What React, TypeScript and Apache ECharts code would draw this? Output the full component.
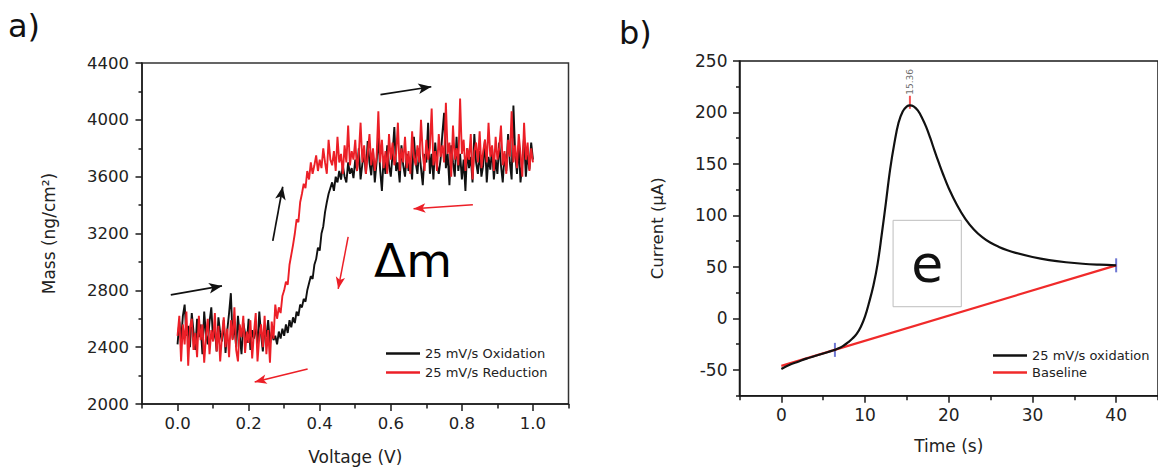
import React, { useEffect, useRef } from "react";
import * as echarts from "echarts";

const FONT = "DejaVu Sans";

// ---------- Panel a) : EQCM mass vs voltage ----------
const VOLT_STEP = 0.005;
const MASS_OXIDATION = [
  2420, 2580, 2450, 2620, 2700, 2480, 2550, 2400, 2640, 2510,
  2380, 2600, 2470, 2560, 2350, 2650, 2490, 2420, 2580, 2680,
  2450, 2530, 2370, 2610, 2500, 2440, 2590, 2360, 2520, 2640,
  2780, 2460, 2550, 2400, 2620, 2480, 2350, 2570, 2500, 2430,
  2600, 2380, 2520, 2460, 2560, 2400, 2650, 2490, 2370, 2540,
  2470, 2590, 2420, 2510, 2450, 2480, 2420, 2510, 2460, 2530,
  2480, 2560, 2500, 2590, 2540, 2610, 2570, 2650, 2620, 2700,
  2680, 2740, 2720, 2800, 2850, 2900, 2880, 2980, 3020, 3100,
  3080, 3200, 3250, 3350, 3420, 3480, 3520, 3560, 3500, 3600,
  3560, 3640, 3580, 3680, 3600, 3560, 3700, 3620, 3660, 3590,
  3720, 3640, 3800, 3580, 3690, 3760, 3620, 3850, 3700, 3610,
  3780, 3560, 3700, 3880, 3650, 3500, 3740, 3620, 3820, 3680,
  3600, 3760, 3950, 3640, 3700, 3560, 3820, 3680, 3600, 3760,
  3640, 3720, 3580, 3880, 3700, 3620, 3800, 3660, 3540, 3760,
  3700, 3980, 3620, 3760, 3580, 3840, 3680, 3620, 3720, 3900,
  4050, 3660, 3760, 3540, 3820, 3700, 3600, 3880, 3640, 3760,
  3580, 3720, 3500, 3800, 3660, 3740, 3560, 3900, 3700, 3620,
  3780, 3600, 3680, 3860, 3560, 3740, 3650, 3800, 3580, 3720,
  3620, 3840, 3680, 3560, 3760, 3640, 3900, 3700, 3580, 4100,
  3760, 3620, 3820, 3560, 3700, 3880, 3600, 3760, 3650, 3840, 3720,
];
const MASS_REDUCTION = [
  2480, 2620, 2300, 2560, 2420, 2650, 2270, 2540, 2600, 2380,
  2500, 2330, 2620, 2450, 2560, 2290, 2480, 2600, 2350, 2520,
  2440, 2640, 2370, 2550, 2300, 2480, 2610, 2400, 2530, 2330,
  2590, 2450, 2680, 2380, 2300, 2560, 2470, 2620, 2360, 2510,
  2430, 2590, 2320, 2500, 2640, 2300, 2470, 2560, 2400, 2620,
  2350, 2520, 2290, 2580, 2460, 2700, 2600, 2680, 2640, 2760,
  2800, 2860, 2840, 2980, 3050, 3120, 3200, 3300, 3280, 3420,
  3480, 3550, 3520, 3640, 3580, 3700, 3620, 3680, 3750, 3640,
  3720, 3660, 3800, 3700, 3620, 3860, 3720, 3680, 3780, 3640,
  3880, 3700, 3760, 3620, 3820, 3700, 3960, 3680, 3780, 3720,
  3860, 3640, 3760, 3980, 3700, 3820, 3620, 3760, 3900, 3680,
  3800, 3640, 3740, 4060, 3700, 3860, 3660, 3780, 3620, 3900,
  3720, 3840, 3680, 3760, 3980, 3640, 3800, 3700, 3880, 3660,
  3780, 3620, 3920, 3740, 3680, 3820, 3700, 4000, 3760, 3640,
  3860, 3720, 3800, 4080, 3680, 3780, 3640, 3900, 3740, 3820,
  3700, 4120, 3760, 3840, 3600, 3960, 3720, 3800, 3680, 4150,
  3760, 3860, 3640, 3800, 3720, 3900, 3580, 3780, 3840, 3700,
  3920, 3660, 3780, 3860, 3700, 3980, 3740, 3820, 3640, 3880,
  3720, 3800, 3960, 3680, 3780, 3620, 3860, 3740, 4060, 3700,
  3820, 3660, 3900, 3760, 3600, 3980, 3720, 3840, 3640, 3800, 3700,
];
const VOLT_LABELS = [0, 0.2, 0.4, 0.6, 0.8, 1.0];
const VOLT_MINOR = [-0.1, 0.1, 0.3, 0.5, 0.7, 0.9, 1.1];
// direction arrows (data coordinates: start, end)
const ARROWS_BLACK = [
  [[-0.019, 2768], [0.125, 2831]],
  [[0.571, 4177], [0.714, 4233]],
  [[0.268, 3148], [0.296, 3529]],
];
const ARROWS_RED = [
  [[0.831, 3402], [0.664, 3374]],
  [[0.48, 3176], [0.452, 2810]],
  [[0.366, 2247], [0.217, 2155]],
];

// ---------- Panel b) : current vs time ----------
const TIME = [
  0, 1, 2, 3, 4, 5, 6, 6.4, 7, 7.5, 8, 8.5, 9, 9.5, 10, 10.5, 11, 11.5, 12, 12.5,
  13, 13.5, 14, 14.5, 15, 15.36, 15.8, 16.3, 16.8, 17.3, 17.8, 18.3, 18.8, 19.3,
  20, 21, 22, 23, 24, 25, 26, 27, 28, 30, 32, 34, 36, 38, 40,
];
const CURRENT = [
  -49, -45, -42, -39, -36.5, -34, -31.5, -30.5, -28.5, -26, -23, -19.5, -15, -8, 2, 16, 32, 53, 82, 113,
  145, 170, 190, 201, 206, 207, 206, 202, 195, 186, 175, 163, 151.5, 140.5,
  126.5, 110, 96.5, 86.5, 79, 73.5, 69.5, 66.3, 63.7, 59.7, 56.7, 54.6, 53.1, 52.2, 51.6,
];
const BASELINE_T = [0, 40];
const BASELINE_I = [-46, 51.6];
const LIMITS = [
  [6.4, -30.5],
  [40, 51.6],
];
const PEAK = [15.36, 207];
const PEAK_LABEL = "15.36";
const TIME_LABELS = [0, 10, 20, 30, 40];
const TIME_MINOR = [-5, 5, 15, 25, 35, 45];
const CURRENT_LABELS = [-50, 0, 50, 100, 150, 200, 250];
const CURRENT_MINOR = [-75, -25, 25, 75, 125, 175, 225];
const CHARGE_BOX = [
  [13.35, 95.3],
  [21.5, 11.4],
];

const INK = "#1a1a1a";
const TXT = "#222";
const RED = "#ec1f27";

function arrowLines(list: number[][][], color: string, width: number, size: number[]) {
  return {
    silent: true,
    symbol: ["none", "arrow"],
    symbolSize: size,
    label: { show: false },
    lineStyle: { color, width, type: "solid" },
    emphasis: { disabled: true },
    data: list.map((p) => [{ coord: p[0] }, { coord: p[1] }]),
  };
}

export default function App() {
  const ref = useRef<HTMLDivElement>(null);

  useEffect(() => {
    if (!ref.current) return;
    const chart = echarts.init(ref.current, undefined, { renderer: "svg" });

    const tickStyle = { color: INK, width: 1.5 };
    const hidden = { show: false };

    const option: any = {
      animation: false,
      textStyle: { fontFamily: FONT },
      grid: [
        { left: 142, top: 63, width: 426.5, height: 341, show: true, borderColor: "#333", borderWidth: 1.5, backgroundColor: "transparent" },
        { left: 739.5, top: 61, width: 424.5, height: 334.7, show: true, borderColor: INK, borderWidth: 1.5, backgroundColor: "transparent" },
      ],
      xAxis: [
        {
          type: "value", gridIndex: 0, position: "bottom", min: -0.1, max: 1.1,
          axisLine: { onZero: false, lineStyle: { color: INK, width: 1.5 } },
          axisTick: { customValues: VOLT_LABELS, length: 7, lineStyle: tickStyle },
          axisLabel: { customValues: VOLT_LABELS, formatter: (v: number) => v.toFixed(1), fontSize: 16.5, margin: 11, color: TXT, fontFamily: FONT },
          splitLine: hidden,
          name: "Voltage (V)", nameLocation: "middle", nameGap: 44,
          nameTextStyle: { fontSize: 17, color: TXT, fontFamily: FONT },
        },
        {
          type: "value", gridIndex: 0, position: "bottom", min: -0.1, max: 1.1,
          axisLine: { show: false, onZero: false },
          axisTick: { customValues: VOLT_MINOR, length: 4.5, lineStyle: tickStyle },
          axisLabel: hidden, splitLine: hidden,
        },
        {
          type: "value", gridIndex: 1, position: "bottom", min: -5, max: 45,
          axisLine: { onZero: false, lineStyle: { color: INK, width: 1.5 } },
          axisTick: { customValues: TIME_LABELS, length: 7, lineStyle: tickStyle },
          axisLabel: { customValues: TIME_LABELS, fontSize: 17, margin: 11, color: TXT, fontFamily: FONT },
          splitLine: hidden,
          name: "Time (s)", nameLocation: "middle", nameGap: 42,
          nameTextStyle: { fontSize: 17, color: TXT, fontFamily: FONT },
        },
        {
          type: "value", gridIndex: 1, position: "bottom", min: -5, max: 45,
          axisLine: { show: false, onZero: false },
          axisTick: { customValues: TIME_MINOR, length: 4.5, lineStyle: tickStyle },
          axisLabel: hidden, splitLine: hidden,
        },
      ],
      yAxis: [
        {
          type: "value", gridIndex: 0, position: "left", min: 2000, max: 4400, interval: 400,
          axisLine: { show: true, onZero: false, lineStyle: { color: INK, width: 1.5 } },
          axisTick: { show: true, length: 6.5, lineStyle: tickStyle },
          minorTick: { show: true, splitNumber: 2, length: 3.5, lineStyle: tickStyle },
          axisLabel: { fontSize: 16.5, margin: 13, color: TXT, fontFamily: FONT, formatter: (v: number) => String(v) },
          splitLine: hidden, minorSplitLine: hidden,
          name: "Mass (ng/cm²)", nameLocation: "middle", nameGap: 85,
          nameTextStyle: { fontSize: 17, color: TXT, fontFamily: FONT },
        },
        {
          type: "value", gridIndex: 1, position: "left", min: -75, max: 250,
          axisLine: { show: true, onZero: false, lineStyle: { color: INK, width: 1.5 } },
          axisTick: { show: true, customValues: CURRENT_LABELS, length: 6.5, lineStyle: tickStyle },
          axisLabel: { customValues: CURRENT_LABELS, fontSize: 17, margin: 12, color: TXT, fontFamily: FONT },
          splitLine: hidden,
          name: "Current (µA)", nameLocation: "middle", nameGap: 74,
          nameTextStyle: { fontSize: 16.5, color: TXT, fontFamily: FONT },
        },
        {
          type: "value", gridIndex: 1, position: "left", min: -75, max: 250,
          axisLine: { show: false, onZero: false },
          axisTick: { show: true, customValues: CURRENT_MINOR, length: 3.5, lineStyle: tickStyle },
          axisLabel: hidden, splitLine: hidden,
        },
      ],
      legend: [
        {
          data: ["25 mV/s Oxidation", "25 mV/s Reduction"],
          orient: "vertical", left: 386, top: 347, padding: 0,
          itemWidth: 34, itemHeight: 2.5, itemGap: 6, icon: "rect",
          selectedMode: false,
          textStyle: { fontFamily: FONT, fontSize: 13, color: TXT },
        },
        {
          data: ["25 mV/s oxidation", "Baseline"],
          orient: "vertical", left: 993, top: 349, padding: 0,
          itemWidth: 34, itemHeight: 2.5, itemGap: 4, icon: "rect",
          selectedMode: false,
          textStyle: { fontFamily: FONT, fontSize: 13, color: TXT },
        },
      ],
      series: [
        {
          name: "25 mV/s Oxidation", type: "line", xAxisIndex: 0, yAxisIndex: 0,
          data: MASS_OXIDATION.map((m, i) => [i * VOLT_STEP, m]),
          showSymbol: false, symbol: "none",
          lineStyle: { color: "#111", width: 1.9 }, itemStyle: { color: "#111" },
          markLine: arrowLines(ARROWS_BLACK, "#111", 1.7, [8, 13]),
        },
        {
          name: "25 mV/s Reduction", type: "line", xAxisIndex: 0, yAxisIndex: 0,
          data: MASS_REDUCTION.map((m, i) => [i * VOLT_STEP, m]),
          showSymbol: false, symbol: "none",
          lineStyle: { color: RED, width: 1.9 }, itemStyle: { color: RED },
          markLine: arrowLines(ARROWS_RED, RED, 1.5, [7, 12]),
        },
        {
          name: "Baseline", type: "line", xAxisIndex: 2, yAxisIndex: 1,
          data: BASELINE_T.map((t, i) => [t, BASELINE_I[i]]),
          showSymbol: false, symbol: "none",
          lineStyle: { color: "#f02a2a", width: 2.2 }, itemStyle: { color: "#f02a2a" },
        },
        {
          name: "25 mV/s oxidation", type: "line", xAxisIndex: 2, yAxisIndex: 1,
          data: TIME.map((t, i) => [t, CURRENT[i]]),
          showSymbol: false, symbol: "none", smooth: 0.4,
          lineStyle: { color: "#111", width: 2.2 }, itemStyle: { color: "#111" },
          markArea: {
            silent: true,
            itemStyle: { color: "rgba(255,255,255,0)", borderColor: "#bdbdbd", borderWidth: 1 },
            label: { show: true, position: "inside", formatter: "e", fontSize: 52, color: "#111", fontFamily: FONT },
            data: [[{ coord: CHARGE_BOX[0] }, { coord: CHARGE_BOX[1] }]],
          },
        },
        {
          name: "limits", type: "scatter", xAxisIndex: 2, yAxisIndex: 1,
          data: LIMITS, symbol: "rect", symbolSize: [2, 14],
          itemStyle: { color: "#4a55c8" }, silent: true,
        },
        {
          name: "peak", type: "scatter", xAxisIndex: 2, yAxisIndex: 1,
          data: [PEAK], symbol: "rect", symbolSize: [2, 13], symbolOffset: [0, -3],
          itemStyle: { color: "#f02a2a" }, silent: true,
          label: {
            show: true, formatter: PEAK_LABEL, position: "top", distance: 1,
            rotate: 90, align: "left", verticalAlign: "middle",
            fontSize: 9, color: "#444", fontFamily: FONT,
          },
        },
      ],
      graphic: [
        { type: "text", x: 8, y: 10, style: { text: "a)", fontSize: 32, fontFamily: FONT, fill: "#111", align: "left", verticalAlign: "top" } },
        { type: "text", x: 619, y: 17, style: { text: "b)", fontSize: 32, fontFamily: FONT, fill: "#111", align: "left", verticalAlign: "top" } },
        { type: "text", x: 374, y: 237, style: { text: "Δm", fontSize: 47, fontFamily: FONT, fill: "#000", align: "left", verticalAlign: "top" } },
      ],
    };

    chart.setOption(option);
    return () => chart.dispose();
  }, []);

  return (
    <div
      ref={ref}
      style={{ position: "fixed", left: 0, top: 0, width: 1158, height: 470, background: "#fff" }}
    />
  );
}
